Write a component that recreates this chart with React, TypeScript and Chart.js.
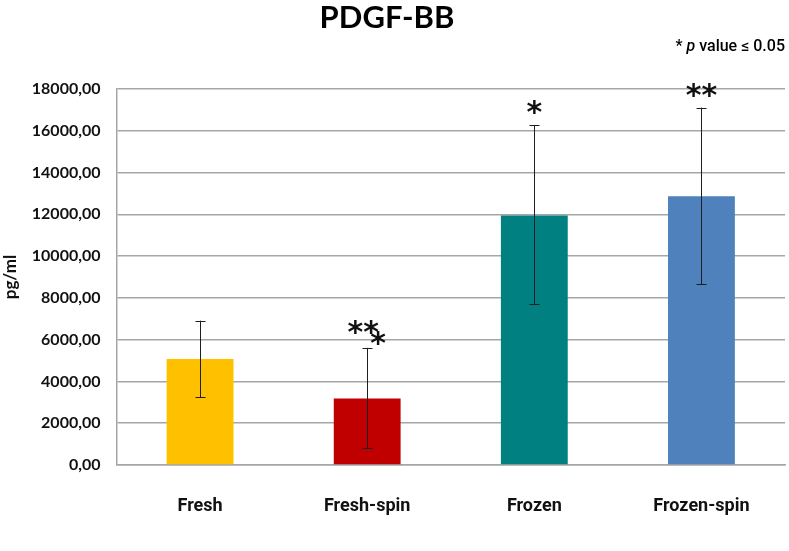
import { useEffect, useRef } from "react";
import { Chart, registerables } from "chart.js";

Chart.register(...registerables);

const chartTitle = "PDGF-BB";
const yAxisTitle = "pg/ml";
const categories = ["Fresh", "Fresh-spin", "Frozen", "Frozen-spin"];
const means = [5080, 3180, 11950, 12860];
const errorUpper = [6910, 5610, 16270, 17110];
const errorLower = [3250, 830, 7710, 8650];
const significance = ["", "**", "*", "**"];
const extraSignificance = ["", "*", "", ""];
const barColors = ["#FFC000", "#C00000", "#008080", "#4F81BD"];
const yMin = 0;
const yMax = 18000;
const yStep = 2000;

const annotationPlugin = {
  id: "annotations",
  afterDatasetsDraw(chart: any) {
    const ctx = chart.ctx;
    const yScale = chart.scales.y;
    const meta = chart.getDatasetMeta(0);
    ctx.save();
    meta.data.forEach((bar: any, i: number) => {
      const x = bar.x;
      const yT = yScale.getPixelForValue(errorUpper[i]);
      const yB = yScale.getPixelForValue(errorLower[i]);
      ctx.strokeStyle = "#1e1e1e";
      ctx.lineWidth = 1;
      ctx.beginPath();
      ctx.moveTo(Math.round(x) + 0.5, yT);
      ctx.lineTo(Math.round(x) + 0.5, yB);
      ctx.moveTo(Math.round(x) - 4.5, Math.round(yT) + 0.5);
      ctx.lineTo(Math.round(x) + 5.5, Math.round(yT) + 0.5);
      ctx.moveTo(Math.round(x) - 4.5, Math.round(yB) + 0.5);
      ctx.lineTo(Math.round(x) + 5.5, Math.round(yB) + 0.5);
      ctx.stroke();

      ctx.fillStyle = "#111";
      ctx.font = "bold 30px 'DejaVu Sans'";
      ctx.textAlign = "center";
      ctx.textBaseline = "alphabetic";
      const hasExtra = extraSignificance[i] ? 1 : 0;
      if (significance[i]) {
        ctx.fillText(significance[i], x - 4 * hasExtra, yT - 3 - 3 * hasExtra);
      }
      if (extraSignificance[i]) {
        ctx.fillText(extraSignificance[i], x + 11, yT + 5);
      }
    });
    ctx.restore();
  },
  afterDraw(chart: any) {
    const ctx = chart.ctx;
    ctx.save();
    ctx.fillStyle = "#000";
    ctx.font = "bold 31px Lato";
    ctx.textAlign = "center";
    ctx.textBaseline = "alphabetic";
    ctx.fillText(chartTitle, 387, 28);

    // caption: "* p value ≤ 0.05" with italic p
    const normal = "500 16px Roboto";
    const italic = "italic 500 16px Roboto";
    const parts = [
      { t: "* ", f: normal },
      { t: "p", f: italic },
      { t: " value ≤ 0.05", f: normal },
    ];
    let total = 0;
    parts.forEach((p) => {
      ctx.font = p.f;
      total += ctx.measureText(p.t).width;
    });
    let x = chart.width - 4 - total;
    ctx.textAlign = "left";
    parts.forEach((p) => {
      ctx.font = p.f;
      ctx.fillText(p.t, x, 51);
      x += ctx.measureText(p.t).width;
    });
    ctx.restore();
  },
};

export default function App() {
  const ref = useRef<HTMLCanvasElement>(null);
  useEffect(() => {
    const yTickValues: number[] = [];
    for (let v = yMin; v <= yMax; v += yStep) yTickValues.push(v);
    const chart = new Chart(ref.current!, {
      type: "bar",
      data: {
        labels: categories,
        datasets: [
          {
            data: means,
            backgroundColor: barColors,
            borderWidth: 0,
            categoryPercentage: 1,
            barPercentage: 0.4,
          },
        ],
      },
      options: {
        responsive: false,
        animation: false,
        layout: { padding: { top: 89, right: 4, left: 0, bottom: 0 } },
        plugins: {
          legend: { display: false },
          title: { display: false },
          tooltip: { enabled: false },
        },
        scales: {
          x: {
            grid: { display: false, drawTicks: false },
            border: { display: true, color: "#a6a6a6", width: 1.5 },
            ticks: {
              color: "#111",
              padding: 31,
              font: { family: "Roboto", size: 18, weight: "bold" },
            },
            afterFit: (s: any) => {
              s.height = 86;
            },
          },
          y: {
            min: yMin,
            max: yMax,
            afterBuildTicks: (s: any) => {
              s.ticks = yTickValues.map((v) => ({ value: v }));
            },
            grid: { color: "#a6a6a6", lineWidth: 1.5, drawTicks: false },
            border: { display: true, color: "#a6a6a6", width: 1.5 },
            ticks: {
              color: "#111",
              padding: 16,
              font: { family: "Lato", size: 16, weight: "bold" },
              callback: (v: any) => Number(v).toFixed(2).replace(".", ","),
            },
            title: {
              display: true,
              text: yAxisTitle,
              color: "#111",
              font: { family: "Lato", size: 17, weight: "bold" },
              padding: { top: 0, bottom: 0 },
            },
            afterFit: (s: any) => {
              s.width = 116.5;
            },
          },
        },
      },
      plugins: [annotationPlugin],
    });
    return () => chart.destroy();
  }, []);
  return (
    <div style={{ position: "absolute", left: 0, top: 0, width: 789, height: 551, background: "#fff" }}>
      <canvas ref={ref} width={789} height={551} />
    </div>
  );
}
